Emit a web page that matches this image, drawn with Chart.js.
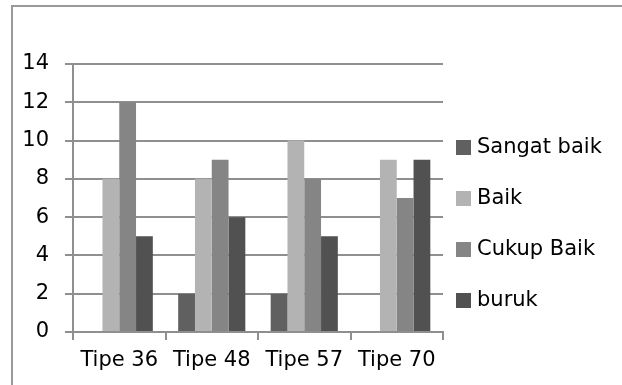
<!DOCTYPE html>
<html>
<head>
<meta charset="utf-8">
<script src="https://cdn.jsdelivr.net/npm/chart.js@4/dist/chart.umd.min.js"></script>
<style>
  html, body { margin: 0; padding: 0; background: #fff; overflow: hidden; }
  #wrap { position: relative; width: 622px; height: 385px; }
  #frame {
    position: absolute; left: 11px; top: 5px; width: 640px; height: 420px;
    border-left: 2px solid #9a9a9a; border-top: 2px solid #9a9a9a;
    pointer-events: none;
  }
  canvas { position: absolute; left: 0; top: 0; }
</style>
</head>
<body>
<div id="wrap">
  <canvas id="c" width="622" height="385"></canvas>
  <div id="frame"></div>
</div>
<script>
// Categories and series
const categories = ['Tipe 36', 'Tipe 48', 'Tipe 57', 'Tipe 70'];
const seriesNames = ['Sangat baik', 'Baik', 'Cukup Baik', 'buruk'];
const sangatBaik = [0, 2, 2, 0];
const baik = [8, 8, 10, 9];
const cukupBaik = [12, 9, 8, 7];
const buruk = [5, 6, 5, 9];
const yTicks = [0, 2, 4, 6, 8, 10, 12, 14];

const seriesValues = [sangatBaik, baik, cukupBaik, buruk];
const seriesColors = ['#606060', '#b3b3b3', '#858585', '#515151'];

const FONT = 'DejaVu Sans';
const FONT_SIZE = 21;
const GRID = '#8f8f8f';

// Legend drawn to the right of the plot, one entry per series
const sideLegend = {
  id: 'sideLegend',
  afterDraw(chart) {
    const ctx = chart.ctx;
    const x = chart.chartArea.right + 13;
    const centers = [147, 198, 249, 300];
    ctx.save();
    ctx.font = FONT_SIZE + 'px "' + FONT + '"';
    ctx.textBaseline = 'middle';
    ctx.textAlign = 'left';
    chart.data.datasets.forEach((ds, i) => {
      const cy = centers[i];
      ctx.fillStyle = ds.backgroundColor;
      ctx.fillRect(x, cy - 7, 15, 15);
      ctx.fillStyle = '#000';
      ctx.fillText(ds.label, x + 21, cy + 1);
    });
    ctx.restore();
  }
};

new Chart(document.getElementById('c'), {
  type: 'bar',
  data: {
    labels: categories,
    datasets: seriesNames.map((name, i) => ({
      label: name,
      data: seriesValues[i],
      backgroundColor: seriesColors[i],
      borderWidth: 0,
      categoryPercentage: 0.726,
      barPercentage: 1.0
    }))
  },
  options: {
    responsive: false,
    animation: false,
    devicePixelRatio: 1,
    layout: { padding: { top: 64, right: 179, bottom: 0, left: 0 } },
    plugins: {
      legend: { display: false },
      tooltip: { enabled: false }
    },
    scales: {
      x: {
        grid: { display: true, drawOnChartArea: false, drawTicks: true, tickLength: 8, color: GRID, lineWidth: 2, offset: true },
        border: { display: true, color: GRID, width: 2 },
        ticks: { color: '#000', font: { family: FONT, size: FONT_SIZE }, padding: 8, maxRotation: 0 },
        afterFit(scale) { scale.height = 53; }
      },
      y: {
        min: 0,
        max: 14,
        afterBuildTicks(scale) { scale.ticks = yTicks.map(v => ({ value: v })); },
        grid: { color: GRID, lineWidth: 2, tickLength: 8, drawTicks: true },
        border: { display: true, color: GRID, width: 2 },
        ticks: { color: '#000', font: { family: FONT, size: FONT_SIZE }, padding: 16 },
        afterFit(scale) { scale.width = 73; }
      }
    }
  },
  plugins: [sideLegend]
});
</script>
</body>
</html>
